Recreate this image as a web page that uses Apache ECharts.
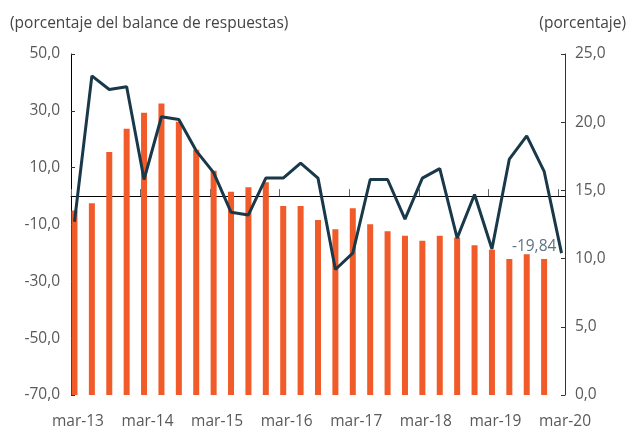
<!DOCTYPE html>
<html>
<head>
<meta charset="utf-8">
<script src="https://cdn.jsdelivr.net/npm/echarts@6/dist/echarts.min.js"></script>
<style>
html,body{margin:0;padding:0;background:#fff;}
#chart{width:631px;height:428px;}
</style>
</head>
<body>
<div id="chart"></div>
<script>
// quarters, mar-13 .. mar-20
var quarters = ['mar-13','jun-13','sep-13','dic-13','mar-14','jun-14','sep-14','dic-14',
    'mar-15','jun-15','sep-15','dic-15','mar-16','jun-16','sep-16','dic-16',
    'mar-17','jun-17','sep-17','dic-17','mar-18','jun-18','sep-18','dic-18',
    'mar-19','jun-19','sep-19','dic-19','mar-20'];
// balance de respuestas (left axis, bars)
var balance = [-5.1, -2.5, 15.5, 23.7, 29.3, 32.6, 26.2, 16.3,
    8.9, 1.5, 3.1, 4.9, -3.5, -3.5, -8.4, -11.7,
    -4.3, -9.9, -12.4, -14.0, -15.7, -14.0, -14.6, -17.3,
    -18.9, -22.1, -20.5, -22.1];
// porcentaje (right axis, line)
var porcentaje = [12.7, 23.4, 22.4, 22.6, 15.8, 20.4, 20.2, 17.9,
    16.3, 13.4, 13.2, 15.9, 15.9, 17.0, 15.9, 9.2,
    10.4, 15.8, 15.8, 12.9, 15.9, 16.6, 11.5, 14.7,
    10.7, 17.3, 19.0, 16.4, 10.4];
var lastLabel = '-19,84';
var leftTitle = '(porcentaje del balance de respuestas)';
var rightTitle = '(porcentaje)';

var fmt = function(v){ return v.toFixed(1).replace('.', ','); };
var labelPos = [], tickPos = [];
for (var k = 0; k <= 7; k++) {
    labelPos.push(Number((4 * k + 0.2).toFixed(2)));
    tickPos.push(Number((4 * k - 0.2).toFixed(2)));
}
var font = '"Open Sans", "DejaVu Sans", sans-serif';
var fs = 15.5;

var barData = balance.map(function(v, i){
    var item = {value: [i, v]};
    if (i === balance.length - 1) {
        item.label = {
            show: true, position: 'top', distance: 4, offset: [-10, 0],
            formatter: lastLabel, color: '#5d7280', fontSize: fs, fontFamily: font
        };
    }
    return item;
});
var lineData = porcentaje.map(function(v, i){ return [i, v]; });

var chart = echarts.init(document.getElementById('chart'));
chart.setOption({
    animation: false,
    textStyle: {fontFamily: font},
    title: [
        {text: leftTitle, left: 5, top: 11, textStyle: {fontSize: fs, fontWeight: 'normal', color: '#444', fontFamily: font}},
        {text: rightTitle, right: 0, top: 11, textStyle: {fontSize: fs, fontWeight: 'normal', color: '#444', fontFamily: font}}
    ],
    grid: {left: 71, right: 66, top: 54, bottom: 33, outerBoundsMode: 'none'},
    xAxis: [
        {
            type: 'value', position: 'bottom', min: -0.2, max: 28.2,
            splitLine: {show: false},
            axisLine: {show: false},
            axisTick: {show: false},
            axisLabel: {
                customValues: labelPos, margin: 19, fontSize: fs, color: '#595959', fontFamily: font,
                formatter: function(v){ return quarters[Math.round(v)]; }
            }
        },
        {
            type: 'value', position: 'top', min: -0.2, max: 28.2,
            splitLine: {show: false},
            axisLine: {show: true, onZero: true, onZeroAxisIndex: 0, lineStyle: {color: '#000', width: 1}},
            axisTick: {show: true, customValues: tickPos, length: 7, inside: false, lineStyle: {color: '#666'}},
            axisLabel: {show: false}
        }
    ],
    yAxis: [
        {
            type: 'value', min: -70, max: 50, interval: 20, startValue: -70,
            splitLine: {show: false},
            axisLine: {show: true, onZero: false, lineStyle: {color: '#000'}},
            axisTick: {show: true, inside: true, length: 4, lineStyle: {color: '#333'}},
            axisLabel: {margin: 11, fontSize: fs, color: '#595959', fontFamily: font, formatter: fmt}
        },
        {
            type: 'value', min: 0, max: 25, interval: 5, position: 'right',
            splitLine: {show: false},
            axisLine: {show: true, onZero: false, lineStyle: {color: '#333'}},
            axisTick: {show: true, inside: true, length: 4, lineStyle: {color: '#333'}},
            axisLabel: {margin: 10, fontSize: fs, color: '#595959', fontFamily: font, formatter: fmt}
        }
    ],
    series: [
        {
            type: 'bar', xAxisIndex: 0, yAxisIndex: 0, barWidth: 6,
            itemStyle: {color: '#f15a29'},
            data: barData
        },
        {
            type: 'line', xAxisIndex: 0, yAxisIndex: 1, symbol: 'none',
            lineStyle: {color: '#19394a', width: 3},
            data: lineData
        }
    ]
});
</script>
</body>
</html>
